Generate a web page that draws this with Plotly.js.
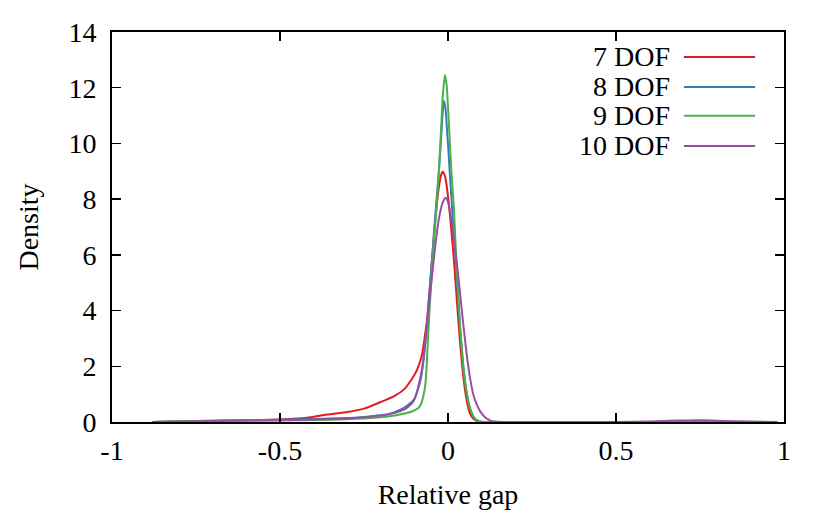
<!DOCTYPE html>
<html>
<head>
<meta charset="utf-8">
<script src="https://cdn.plot.ly/plotly-3.0.1.min.js"></script>
<style>html,body{margin:0;padding:0;background:#fff;}#chart{width:830px;height:518px;}</style>
</head>
<body>
<div id="chart"></div>
<script>
// Series names and colours
const seriesNames = ["7 DOF", "8 DOF", "9 DOF", "10 DOF"];
const seriesColors = ["#e41a1c", "#377eb8", "#4daf4a", "#984ea3"];

// 7 DOF (red)
const x7 = [-0.88,-0.8,-0.7,-0.6,-0.5,-0.42,-0.36,-0.3,-0.25,-0.2,-0.16,-0.13,-0.11,-0.095,-0.085,-0.076,-0.068,-0.062,-0.055,-0.048,-0.04,-0.033,-0.027,-0.021,-0.016,-0.011,-0.006,0.0,0.006,0.012,0.019,0.025,0.031,0.04,0.049,0.057,0.065,0.075,0.088,0.1,0.2,0.4,0.6,0.8,0.98];
const y7 = [0.0,0.02,0.04,0.06,0.09,0.15,0.27,0.36,0.48,0.72,0.93,1.18,1.5,1.8,2.1,2.5,3.15,3.7,4.7,5.75,6.95,7.85,8.45,8.85,8.98,8.9,8.65,8.1,7.4,6.6,5.6,4.6,3.6,2.3,1.3,0.7,0.32,0.12,0.03,0.0,0.0,0.0,0.0,0.0,0.0];

// 8 DOF (blue)
const x8 = [-0.88,-0.8,-0.7,-0.6,-0.5,-0.4,-0.3,-0.25,-0.2,-0.17,-0.14,-0.12,-0.1,-0.09,-0.08,-0.072,-0.066,-0.06,-0.053,-0.046,-0.04,-0.034,-0.028,-0.022,-0.017,-0.012,-0.007,-0.002,0.001,0.006,0.012,0.018,0.024,0.03,0.036,0.044,0.053,0.062,0.07,0.08,0.09,0.1,0.12,0.3,0.6,0.98];
const y8 = [0.0,0.02,0.04,0.06,0.08,0.11,0.14,0.18,0.24,0.31,0.45,0.6,0.82,1.15,1.6,2.3,3.0,3.9,5.0,6.1,7.1,8.0,8.9,9.9,10.9,11.53,11.2,10.3,9.8,8.8,7.7,6.6,5.6,4.5,3.4,2.2,1.25,0.65,0.33,0.12,0.04,0.01,0.0,0.0,0.0,0.0];

// 9 DOF (green)
const x9 = [-0.88,-0.8,-0.7,-0.6,-0.5,-0.4,-0.3,-0.25,-0.2,-0.15,-0.12,-0.1,-0.088,-0.08,-0.073,-0.068,-0.064,-0.06,-0.055,-0.047,-0.04,-0.033,-0.027,-0.021,-0.015,-0.009,-0.004,0.0,0.004,0.01,0.017,0.024,0.03,0.036,0.044,0.053,0.062,0.07,0.08,0.09,0.1,0.12,0.3,0.6,0.98];
const y9 = [0.0,0.02,0.05,0.06,0.06,0.07,0.1,0.13,0.17,0.25,0.33,0.42,0.5,0.65,0.95,1.3,1.9,2.9,4.0,5.64,6.8,7.9,9.0,10.42,11.8,12.46,12.1,11.3,10.4,9.0,7.8,6.0,4.6,3.4,2.2,1.25,0.65,0.35,0.12,0.04,0.01,0.0,0.0,0.0,0.0];

// 10 DOF (purple)
const x10 = [-0.88,-0.8,-0.7,-0.6,-0.5,-0.4,-0.3,-0.25,-0.2,-0.16,-0.13,-0.115,-0.103,-0.093,-0.085,-0.078,-0.07,-0.063,-0.055,-0.047,-0.04,-0.032,-0.024,-0.015,-0.007,0.0,0.008,0.017,0.026,0.036,0.046,0.055,0.065,0.075,0.085,0.095,0.11,0.125,0.14,0.16,0.3,0.5,0.6,0.68,0.75,0.82,0.9,0.98];
const y10 = [0.0,0.02,0.04,0.05,0.06,0.09,0.13,0.17,0.23,0.32,0.45,0.58,0.75,1.05,1.45,1.85,2.6,3.4,4.4,5.3,6.1,6.9,7.5,7.9,8.05,7.9,7.4,6.6,5.75,4.6,3.45,2.5,1.63,1.0,0.65,0.4,0.17,0.06,0.015,0.0,0.0,0.0,0.02,0.05,0.06,0.04,0.015,0.0];

// Axis ticks
const xTickVals = [-1, -0.5, 0, 0.5, 1];
const xTickText = ["-1", "-0.5", "0", "0.5", "1"];
const yTickVals = [0, 2, 4, 6, 8, 10, 12, 14];
const yTickText = ["0", "2", "4", "6", "8", "10", "12", "14"];

const xs = [x7, x8, x9, x10];
const ys = [y7, y8, y9, y10];

const traces = seriesNames.map((n, i) => ({
  x: xs[i], y: ys[i], name: n, type: "scatter", mode: "lines",
  line: {color: seriesColors[i], width: 2, shape: "spline", smoothing: 0.5},
  hoverinfo: "skip"
}));

const font = {family: "'Liberation Serif', 'Times New Roman', serif", size: 28, color: "#000"};

// Manual gnuplot-style legend (text right-aligned, sample line to the right)
const legRowY = [0.936, 0.859, 0.785, 0.708];
const annotations = seriesNames.map((n, i) => ({
  xref: "paper", yref: "paper", x: 0.834, y: legRowY[i], text: n,
  showarrow: false, xanchor: "right", yanchor: "middle", font: font
}));
const shapes = seriesNames.map((n, i) => ({
  type: "line", xref: "paper", yref: "paper", x0: 0.851, x1: 0.957,
  y0: legRowY[i], y1: legRowY[i], line: {color: seriesColors[i], width: 2}
}));

const axisCommon = {
  showgrid: false, zeroline: false, showline: true, linecolor: "#000", linewidth: 2,
  mirror: "allticks", ticks: "inside", ticklen: 9, tickwidth: 1.5, tickcolor: "#000",
  tickfont: font
};

const layout = {
  width: 830, height: 518,
  margin: {l: 112, r: 46, t: 32, b: 96},
  paper_bgcolor: "#fff", plot_bgcolor: "#fff",
  showlegend: false,
  font: font,
  xaxis: Object.assign({}, axisCommon, {
    range: [-1, 1], tickmode: "array", tickvals: xTickVals, ticktext: xTickText,
    ticklabelstandoff: 2,
    title: {text: "Relative gap", font: font, standoff: 20}
  }),
  yaxis: Object.assign({}, axisCommon, {
    range: [0, 14], tickmode: "array", tickvals: yTickVals, ticktext: yTickText,
    ticklabelstandoff: 8,
    title: {text: "Density", font: font, standoff: 22}
  }),
  annotations: annotations,
  shapes: shapes
};

Plotly.newPlot("chart", traces, layout, {staticPlot: true, displayModeBar: false});
</script>
</body>
</html>
